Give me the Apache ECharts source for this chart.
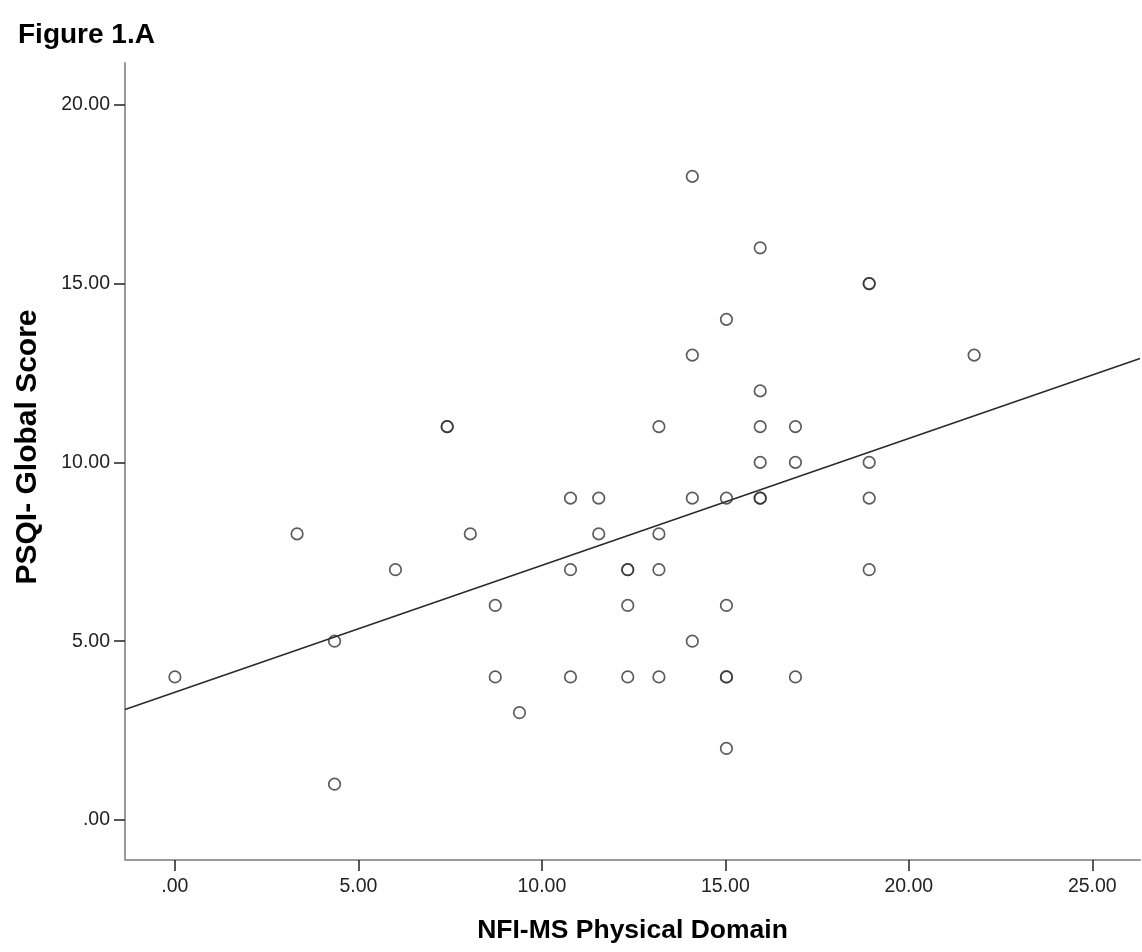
<!DOCTYPE html>
<html><head><meta charset="utf-8">
<script src="https://cdn.jsdelivr.net/npm/echarts@6/dist/echarts.min.js"></script>
<style>html,body{margin:0;padding:0;background:#fff}#c{width:1142px;height:952px}</style>
</head><body><div id="c"></div>
<script>
// NFI-MS Physical Domain (x) vs PSQI Global Score (y)
const xValues = [0, 3.33, 4.35, 4.35, 6.01, 7.42, 7.42, 8.05, 8.73, 8.73, 9.39,
  10.78, 10.78, 10.78, 11.55, 11.55, 12.34, 12.34, 12.34, 12.34,
  13.19, 13.19, 13.19, 13.19, 14.1, 14.1, 14.1, 14.1,
  15.03, 15.03, 15.03, 15.03, 15.03, 15.03,
  15.95, 15.95, 15.95, 15.95, 15.95, 15.95,
  16.91, 16.91, 16.91, 18.92, 18.92, 18.92, 18.92, 18.92, 21.78];
const yValues = [4, 8, 5, 1, 7, 11, 11, 8, 6, 4, 3,
  9, 7, 4, 9, 8, 7, 7, 6, 4,
  11, 8, 7, 4, 18, 13, 9, 5,
  14, 9, 6, 4, 4, 2,
  16, 12, 11, 10, 9, 9,
  11, 10, 4, 15, 15, 10, 9, 7, 13];
const xTicks = [0, 5, 10, 15, 20, 25];
const yTicks = [0, 5, 10, 15, 20];
const xRange = [-1.36, 26.3];
const yRange = [-1.12, 21.17];
const fitIntercept = 3.57;
const fitSlope = 0.355;

const points = xValues.map((x, i) => [x, yValues[i]]);
const fitLine = xRange.map(x => [x, fitIntercept + fitSlope * x]);
const fmt = v => v === 0 ? '.00' : v.toFixed(2);
const FONT = "'Liberation Sans', Arial, sans-serif";

const chart = echarts.init(document.getElementById('c'), null, {renderer: 'canvas'});
chart.setOption({
  animation: false,
  backgroundColor: '#fff',
  title: {
    text: 'Figure 1.A', left: 13, top: 16,
    textStyle: {fontFamily: FONT, fontSize: 28, fontWeight: 'bold', color: '#000'}
  },
  graphic: [{
    type: 'text', x: 28, y: 447, rotation: Math.PI / 2,
    style: {
      text: 'PSQI- Global Score', fontFamily: FONT, fontSize: 30, fontWeight: 'bold',
      fill: '#000', align: 'center', verticalAlign: 'middle'
    }
  }],
  grid: {left: 125, right: 2, top: 63, bottom: 92},
  xAxis: {
    type: 'value', min: xRange[0], max: xRange[1],
    name: 'NFI-MS Physical Domain', nameLocation: 'middle', nameGap: 57,
    nameTextStyle: {fontFamily: FONT, fontSize: 26.5, fontWeight: 'bold', color: '#000'},
    axisLine: {show: true, onZero: false, lineStyle: {color: '#999', width: 2}},
    axisTick: {show: true, customValues: xTicks, length: 11, lineStyle: {color: '#222', width: 1.5}},
    axisLabel: {customValues: xTicks, formatter: fmt, margin: 17,
      fontFamily: FONT, fontSize: 19.5, color: '#222'},
    splitLine: {show: false}
  },
  yAxis: {
    type: 'value', min: yRange[0], max: yRange[1],
    axisLine: {show: true, onZero: false, lineStyle: {color: '#999', width: 2}},
    axisTick: {show: true, customValues: yTicks, length: 11, lineStyle: {color: '#222', width: 1.5}},
    axisLabel: {customValues: yTicks, formatter: fmt, margin: 15,
      fontFamily: FONT, fontSize: 19.5, color: '#222'},
    splitLine: {show: false}
  },
  series: [
    {
      type: 'line', data: fitLine, symbol: 'none', silent: true,
      lineStyle: {color: '#2a2a2a', width: 1.6}, z: 1
    },
    {
      type: 'scatter', data: points, symbol: 'circle', symbolSize: 11.5,
      itemStyle: {color: 'rgba(0,0,0,0)', borderColor: '#333', borderWidth: 1.7}, z: 2
    }
  ]
});
</script></body></html>
